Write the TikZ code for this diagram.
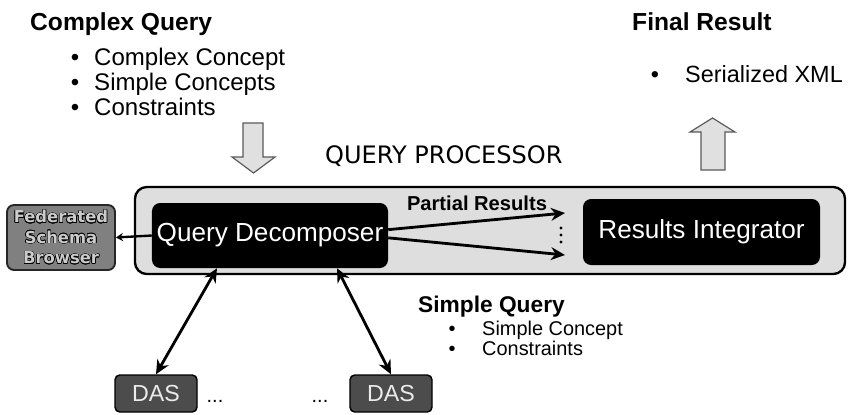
\documentclass[tikz,border=0pt]{standalone}
\usepackage{fontspec}
\setmainfont{Liberation Sans}
\newfontfamily\verdanafont{DejaVu Sans}
\usepackage{contour}
\usetikzlibrary{arrows.meta,calc,positioning}

\begin{document}
\begin{tikzpicture}[x=0.03cm,y=-0.03cm,
    blackbox/.style={fill=black,text=white,rounded corners=7pt,inner sep=0pt,
      font=\fontsize{22.3}{26}\selectfont},
    dasbox/.style={fill=black!70,draw=black,line width=1.2pt,text=black!8,rounded corners=4pt,
      minimum width=2.46cm,minimum height=1.11cm,inner sep=0pt,font=\fontsize{19.8}{23}\selectfont},
    title/.style={anchor=base west,inner sep=0pt,font=\bfseries\fontsize{21}{25}\selectfont},
    item/.style={anchor=base west,inner sep=0pt,font=\fontsize{20.5}{24}\selectfont},
    smallitem/.style={anchor=base west,inner sep=0pt,font=\fontsize{17}{20}\selectfont},
    conn/.style={line width=2.4pt,-{Stealth[length=12pt,width=11pt]}},
    dasconn/.style={line width=2.4pt,{Stealth[length=12pt,width=11pt]}-{Stealth[length=12pt,width=11pt]}},
    blockarrow/.style={fill=black!12,draw=black!65,line width=1pt}]
  \useasboundingbox (0,0) rectangle (849,414);

  % complex query
  \node[title] (cq) at (30,30) {Complex Query};
  \foreach \txt [count=\i] in {Complex Concept,Simple Concepts,Constraints}{
    \node[item,anchor=base] (cqb\i) at (75,40+25*\i) {\textbullet};
    \node[item] (cqt\i) at (94,40+25*\i) {\txt};
  }
  \draw[blockarrow] (243,123) -- (263,123) -- (263,157) -- (275,157) -- (253.5,173)
    -- (232,157) -- (243,157) -- cycle;

  % final result
  \node[title] (fr) at (632,30) {Final Result};
  \node[item,anchor=base,font=\fontsize{20}{23}\selectfont] (frb) at (655,82) {\textbullet};
  \node[item,font=\fontsize{20}{23}\selectfont] (frt) at (685,82) {Serialized XML};
  \draw[blockarrow] (701,170) -- (725,170) -- (725,132) -- (735,132) -- (712.5,118)
    -- (690,132) -- (701,132) -- cycle;

  \node[anchor=base west,inner sep=0pt,font=\verdanafont\fontsize{20.5}{24}\selectfont] (qpt) at (325,163) {QUERY PROCESSOR};

  % processor
  \node[fill=black!13,draw=black,line width=2pt,rounded corners=10pt,
    minimum width=21.3cm,minimum height=2.61cm] (qp) at (490,230.5) {};
  \node[blackbox,minimum width=7.08cm,minimum height=1.95cm] (dec) at (270,235.5) {Query Decomposer};
  \node[blackbox,minimum width=7.11cm,minimum height=1.98cm] (int) at (701.5,232) {Results Integrator};

  \node[fill=black!50,draw=black!85,line width=1.6pt,rounded corners=6pt,
    minimum width=3.24cm,minimum height=1.95cm,inner sep=0pt,align=center,text=black!20,
    font=\verdanafont\bfseries\fontsize{14}{17.4}\selectfont] (fsb) at (61,237.5)
    {\contour{black}{Federated}\\\contour{black}{Schema}\\\contour{black}{Browser}};
  \draw[line width=2pt,-{Stealth[length=6pt,width=7pt]}] (dec.west) -- (fsb.east);

  \coordinate (pr1) at (565,213);
  \coordinate (pr2) at (565,255);
  \draw[conn] ([yshift=5pt]dec.east) -- (pr1);
  \draw[conn] ([yshift=-2pt]dec.east) -- (pr2);
  \node[anchor=base,inner sep=0pt,font=\bfseries\fontsize{17.2}{20}\selectfont] (prl) at (477,210) {Partial Results};
  \foreach \yy in {228,235,242}
    \fill (561,\yy) circle (1.4pt);

  % data access services
  \node[dasbox] (das1) at (156,393.5) {DAS};
  \node[dasbox] (das2) at (391,393.5) {DAS};
  \node[smallitem,anchor=base] (dots1) at (215,402) {...};
  \node[smallitem,anchor=base] (dots2) at (320,402) {...};
  \draw[dasconn] ($(dec.south)+(-53,0)$) -- (das1.north);
  \draw[dasconn] ($(dec.south)+(67,0)$) -- (das2.north);

  % simple query
  \node[title,font=\bfseries\fontsize{19.4}{23}\selectfont] (sq) at (418,312) {Simple Query};
  \foreach \txt [count=\i] in {Simple Concept,Constraints}{
    \node[smallitem,anchor=base] (sqb\i) at (452,315+20*\i) {\textbullet};
    \node[smallitem] (sqt\i) at (482,315+20*\i) {\txt};
  }
\end{tikzpicture}
\end{document}
